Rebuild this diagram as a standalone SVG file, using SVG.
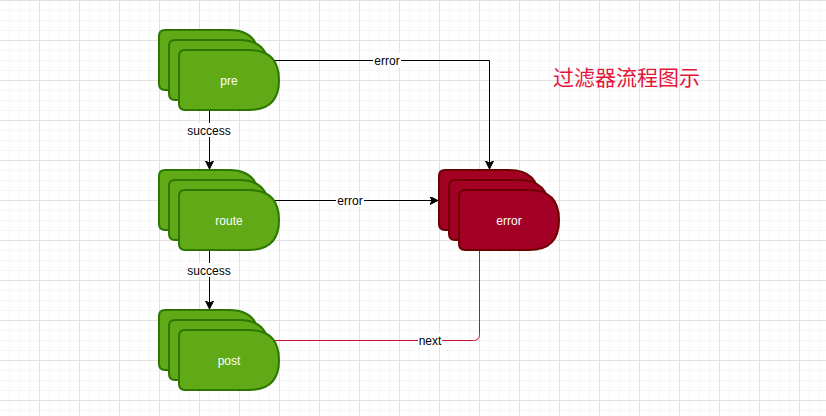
<svg xmlns="http://www.w3.org/2000/svg" width="826" height="416" viewBox="0 0 826 416">
  <defs>
    <pattern id="grid" x="39" y="0" width="40" height="40" patternUnits="userSpaceOnUse">
      <path d="M10.5 0V40M20.5 0V40M30.5 0V40M0 10.5H40M0 20.5H40M0 30.5H40" stroke="#f6f6f6" stroke-width="1" fill="none"/>
      <path d="M0.5 0V40M0 0.5H40" stroke="#e2e2e2" stroke-width="1" fill="none"/>
    </pattern>
    <path id="shape" d="M6 0 L70 0 Q100 0 100 30 Q100 60 70 60 L6 60 Q0 60 0 54 L0 6 Q0 0 6 0 Z"/>
    <marker id="arrow" markerWidth="10" markerHeight="10" refX="8" refY="4" orient="auto" markerUnits="userSpaceOnUse">
      <path d="M0 0 L8 4 L0 8 L2 4 Z" fill="#000" stroke="#000" stroke-width="1"/>
    </marker>
  </defs>
  <style>
    .green use { fill: #60a917; stroke: #2d7600; stroke-width: 2; }
    .red use { fill: #a20025; stroke: #6f0000; stroke-width: 2; }
    .ntext { font-family: "Liberation Sans", Arial, sans-serif; font-size: 12px; fill: #ffffff; text-anchor: middle; }
    .ltext { font-family: "Liberation Sans", Arial, sans-serif; font-size: 12px; fill: #000000; text-anchor: middle; }
    .edge { fill: none; stroke: #000000; stroke-width: 1; }
    .edge-red { fill: none; stroke: #c8102e; stroke-width: 1; }
    .lbg { fill: #ffffff; }
  </style>
  <rect width="826" height="416" fill="#ffffff"/>
  <rect width="826" height="416" fill="url(#grid)"/>

  <g id="connectors">
    <path class="edge" d="M209.5 110 V169" marker-end="url(#arrow)"/>
    <path class="edge" d="M209.5 250 V309" marker-end="url(#arrow)"/>
    <path class="edge" d="M274 60.5 H489.5 V169" marker-end="url(#arrow)"/>
    <path class="edge" d="M274 200.5 H438" marker-end="url(#arrow)"/>
    <path class="edge-red" d="M479.5 250 V334.5 Q479.5 340.5 473.5 340.5 H273"/>
    <rect class="lbg" x="186" y="123" width="46" height="14"/>
    <text class="ltext" x="209" y="134.5">success</text>
    <rect class="lbg" x="186" y="263" width="46" height="14"/>
    <text class="ltext" x="209" y="274.5">success</text>
    <rect class="lbg" x="373" y="53" width="28" height="14"/>
    <text class="ltext" x="387" y="64.5">error</text>
    <rect class="lbg" x="336" y="193" width="28" height="14"/>
    <text class="ltext" x="350" y="204.5">error</text>
    <rect class="lbg" x="418" y="333" width="24" height="14"/>
    <text class="ltext" x="430" y="344.5">next</text>
  </g>

  <g id="node-pre" class="green">
    <use href="#shape" x="159" y="30"/>
    <use href="#shape" x="169" y="40"/>
    <use href="#shape" x="179" y="50"/>
    <text class="ntext" x="229" y="84.5">pre</text>
  </g>
  <g id="node-route" class="green">
    <use href="#shape" x="159" y="170"/>
    <use href="#shape" x="169" y="180"/>
    <use href="#shape" x="179" y="190"/>
    <text class="ntext" x="229" y="224.5">route</text>
  </g>
  <g id="node-post" class="green">
    <use href="#shape" x="159" y="310"/>
    <use href="#shape" x="169" y="320"/>
    <use href="#shape" x="179" y="330"/>
    <text class="ntext" x="229" y="364.5">post</text>
  </g>
  <g id="node-error" class="red">
    <use href="#shape" x="439" y="170"/>
    <use href="#shape" x="449" y="180"/>
    <use href="#shape" x="459" y="190"/>
    <text class="ntext" x="509" y="224.5">error</text>
  </g>
  <g id="title">
    <text x="553" y="85" font-family="'Noto Sans CJK SC', sans-serif" font-size="21" fill="#e3173b">过滤器流程图示</text>
  </g>
</svg>
